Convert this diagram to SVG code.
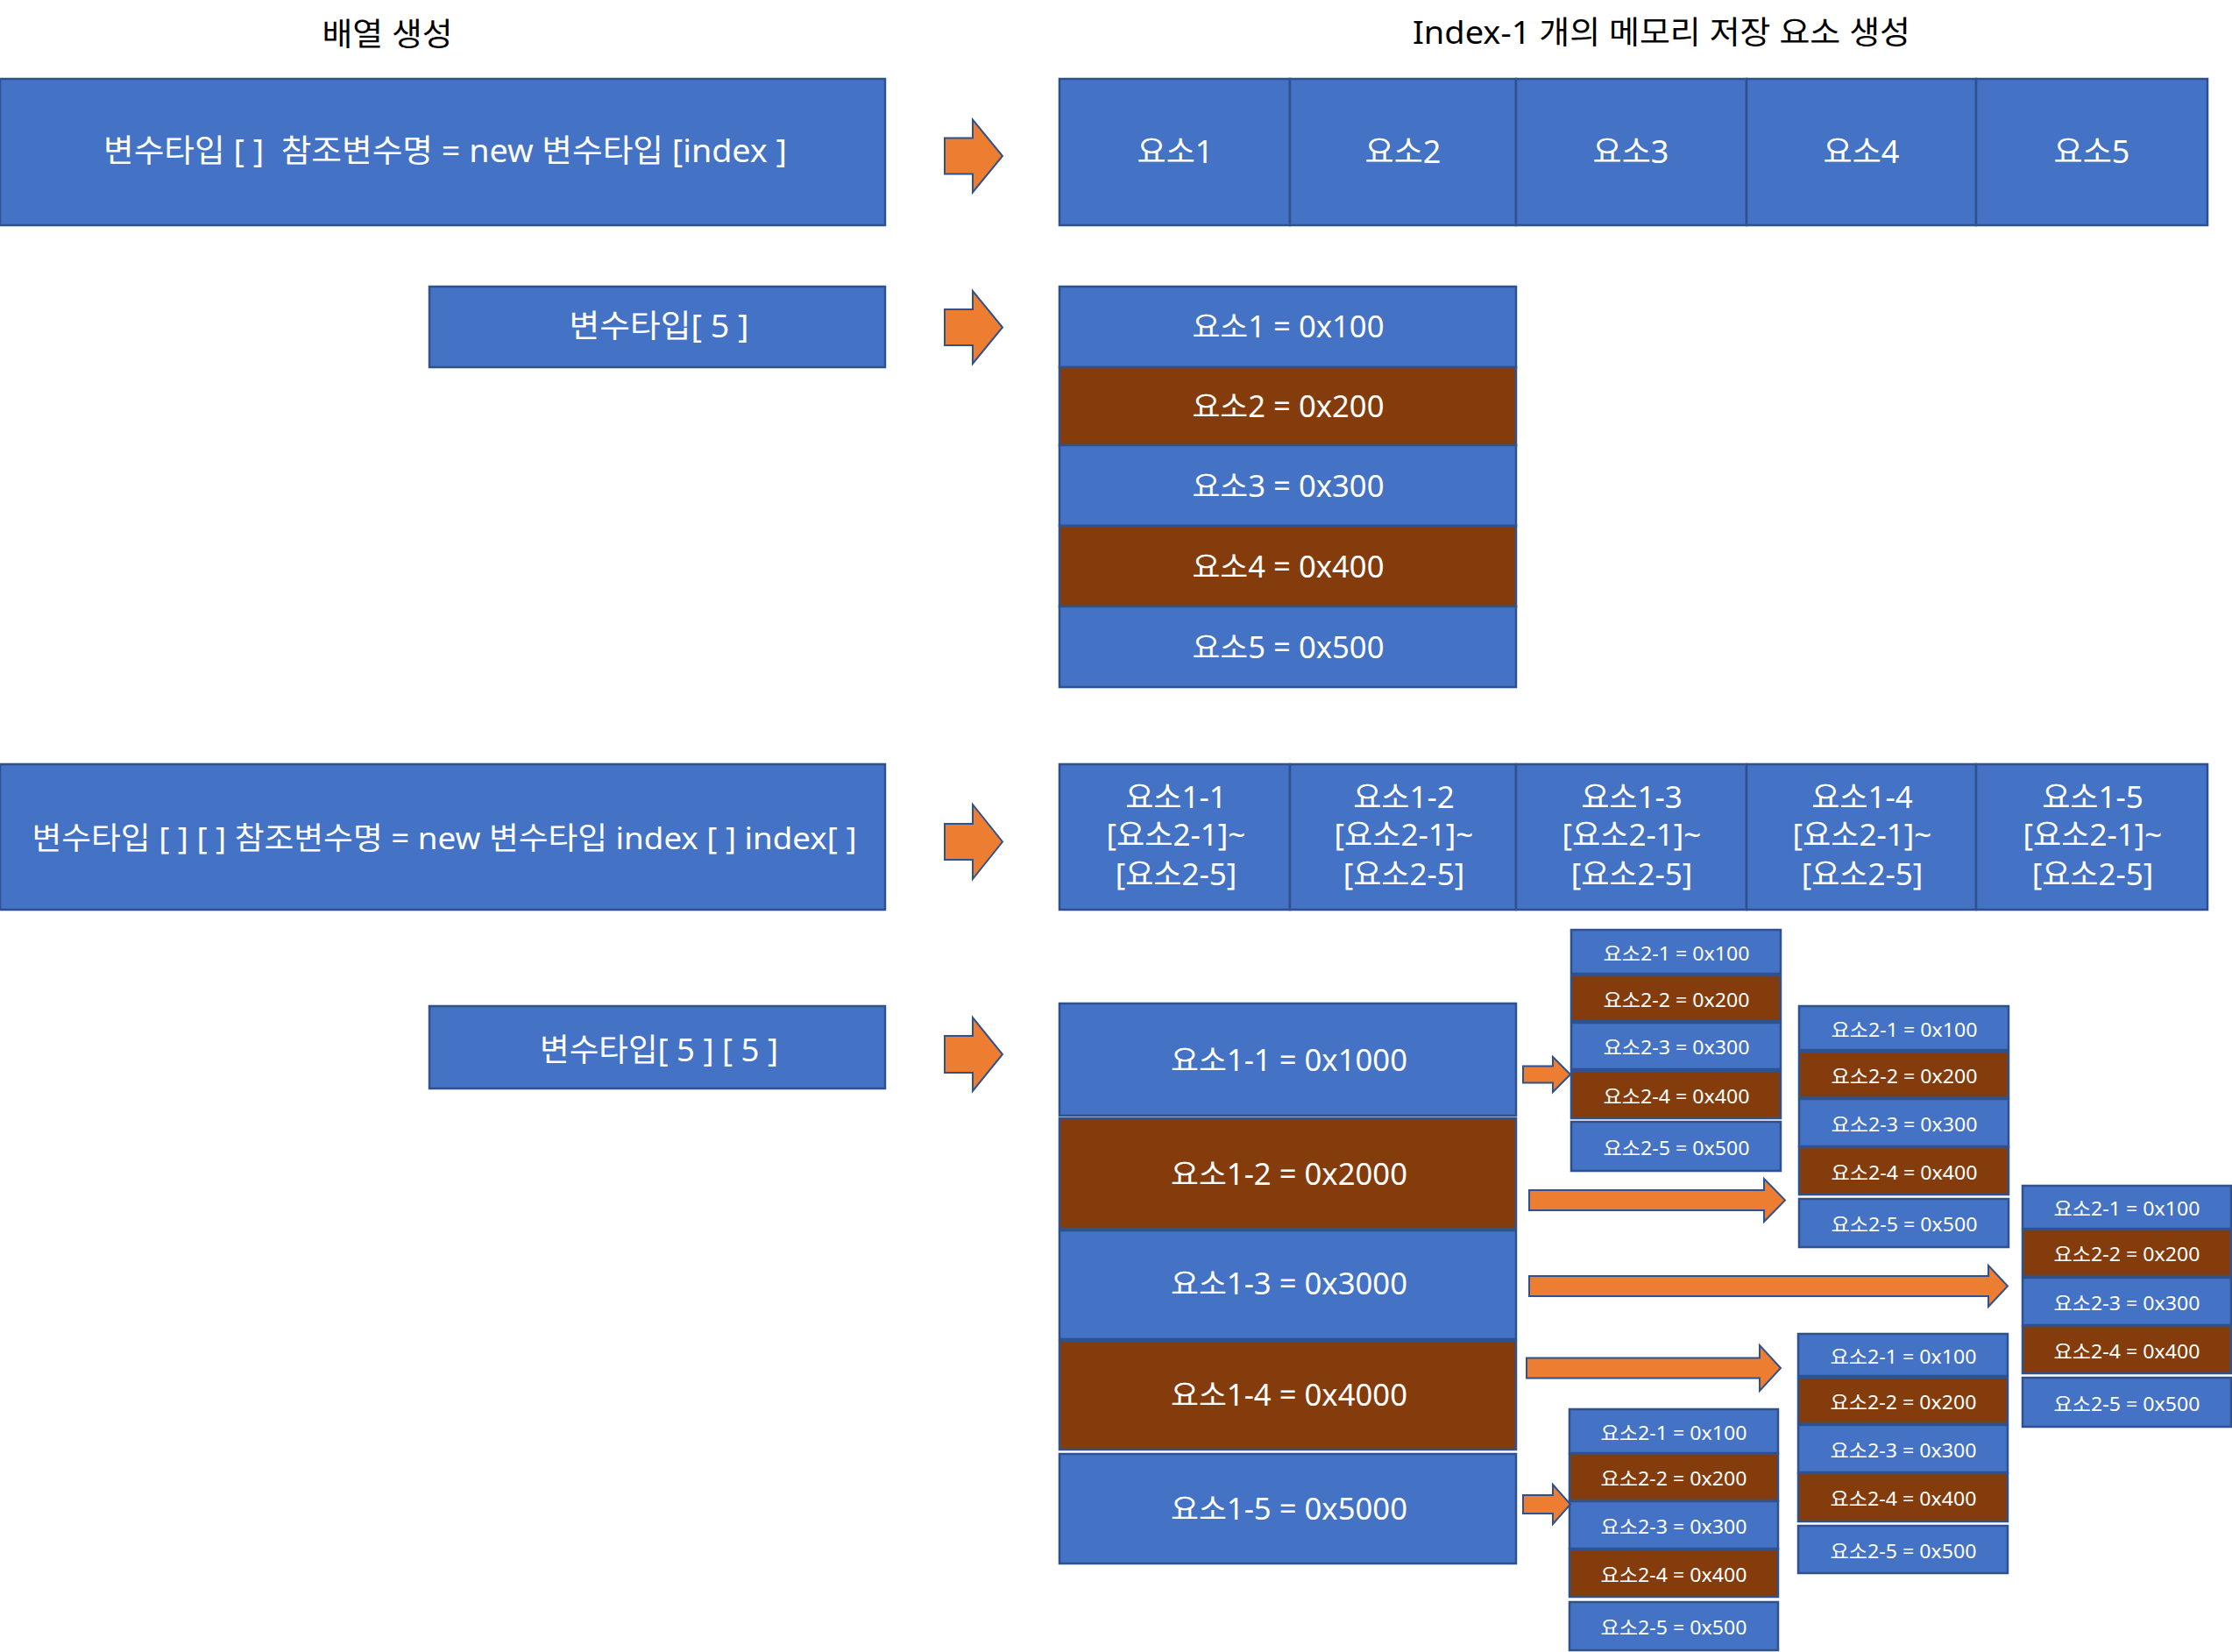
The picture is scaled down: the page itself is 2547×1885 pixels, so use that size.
<svg xmlns="http://www.w3.org/2000/svg" width="2547" height="1885" viewBox="0 0 2547 1885">
<style>
.b{fill:#4472C4;stroke:#2F528F;stroke-width:2.5}
.r{fill:#843C0C;stroke:#2F528F;stroke-width:2.5}
.t{fill:#FFFFFF;font-family:"Noto Sans","Noto Sans CJK KR",sans-serif;text-anchor:middle;white-space:pre}
.h{fill:#000000;font-family:"Noto Sans","Noto Sans CJK KR",sans-serif;text-anchor:middle;font-size:36px;white-space:pre}
.s{font-size:22px}
.m{font-size:34px}
.l{font-size:36px}
.a{fill:#ED7D31;stroke:#2F528F;stroke-width:2;stroke-linejoin:miter}
</style>
<rect width="2547" height="1885" fill="#FFFFFF"/>

<g id="titles">
<text class="h" x="442" y="52" textLength="149" lengthAdjust="spacingAndGlyphs">배열 생성</text>
<text class="h" x="1896" y="50" textLength="568" lengthAdjust="spacingAndGlyphs">Index-1 개의 메모리 저장 요소 생성</text>
</g>

<g id="decl1">
<rect class="b" x="0" y="90" width="1010" height="167"/>
<text class="t l" x="508" y="185" xml:space="preserve" textLength="780" lengthAdjust="spacingAndGlyphs">변수타입 [ ]  참조변수명 = new 변수타입 [index ]</text>
</g>

<g id="row1">
<g id="row1-c1"><rect class="b" x="1209" y="90" width="263" height="167"/><text class="t l" x="1341" y="186">요소1</text></g>
<g id="row1-c2"><rect class="b" x="1472" y="90" width="258" height="167"/><text class="t l" x="1601" y="186">요소2</text></g>
<g id="row1-c3"><rect class="b" x="1730" y="90" width="263" height="167"/><text class="t l" x="1861" y="186">요소3</text></g>
<g id="row1-c4"><rect class="b" x="1993" y="90" width="262" height="167"/><text class="t l" x="2124" y="186">요소4</text></g>
<g id="row1-c5"><rect class="b" x="2255" y="90" width="264" height="167"/><text class="t l" x="2387" y="186">요소5</text></g>
</g>

<g id="decl2">
<rect class="b" x="490" y="327" width="520" height="92"/>
<text class="t l" x="752" y="385" xml:space="preserve" textLength="205" lengthAdjust="spacingAndGlyphs">변수타입[ 5 ]</text>
</g>

<g id="col1">
<g id="col1-r1"><rect class="b" x="1209" y="327" width="521" height="92"/><text class="t m" x="1470" y="385" textLength="219" lengthAdjust="spacingAndGlyphs">요소1 = 0x100</text></g>
<g id="col1-r2"><rect class="r" x="1209" y="419" width="521" height="89"/><text class="t m" x="1470" y="476" textLength="219" lengthAdjust="spacingAndGlyphs">요소2 = 0x200</text></g>
<g id="col1-r3"><rect class="b" x="1209" y="508" width="521" height="92"/><text class="t m" x="1470" y="567" textLength="219" lengthAdjust="spacingAndGlyphs">요소3 = 0x300</text></g>
<g id="col1-r4"><rect class="r" x="1209" y="600" width="521" height="92"/><text class="t m" x="1470" y="659" textLength="219" lengthAdjust="spacingAndGlyphs">요소4 = 0x400</text></g>
<g id="col1-r5"><rect class="b" x="1209" y="692" width="521" height="92"/><text class="t m" x="1470" y="751" textLength="219" lengthAdjust="spacingAndGlyphs">요소5 = 0x500</text></g>
</g>

<g id="decl3">
<rect class="b" x="0" y="872" width="1010" height="166"/>
<text class="t" font-size="35" x="507" y="969" xml:space="preserve" textLength="941" lengthAdjust="spacingAndGlyphs">변수타입 [ ] [ ] 참조변수명 = new 변수타입 index [ ] index[ ]</text>
</g>

<g id="row2">
<g id="row2-c1"><rect class="b" x="1209" y="872" width="263" height="166"/>
<text class="t" font-size="35" x="1342" y="922">요소1-1</text><text class="t" font-size="35" x="1342" y="965">[요소2-1]~</text><text class="t" font-size="35" x="1342" y="1010">[요소2-5]</text></g>
<g id="row2-c2"><rect class="b" x="1472" y="872" width="258" height="166"/>
<text class="t" font-size="35" x="1602" y="922">요소1-2</text><text class="t" font-size="35" x="1602" y="965">[요소2-1]~</text><text class="t" font-size="35" x="1602" y="1010">[요소2-5]</text></g>
<g id="row2-c3"><rect class="b" x="1730" y="872" width="263" height="166"/>
<text class="t" font-size="35" x="1862" y="922">요소1-3</text><text class="t" font-size="35" x="1862" y="965">[요소2-1]~</text><text class="t" font-size="35" x="1862" y="1010">[요소2-5]</text></g>
<g id="row2-c4"><rect class="b" x="1993" y="872" width="262" height="166"/>
<text class="t" font-size="35" x="2125" y="922">요소1-4</text><text class="t" font-size="35" x="2125" y="965">[요소2-1]~</text><text class="t" font-size="35" x="2125" y="1010">[요소2-5]</text></g>
<g id="row2-c5"><rect class="b" x="2255" y="872" width="264" height="166"/>
<text class="t" font-size="35" x="2388" y="922">요소1-5</text><text class="t" font-size="35" x="2388" y="965">[요소2-1]~</text><text class="t" font-size="35" x="2388" y="1010">[요소2-5]</text></g>
</g>

<g id="decl4">
<rect class="b" x="490" y="1148" width="520" height="94"/>
<text class="t l" x="752" y="1211" xml:space="preserve" textLength="272" lengthAdjust="spacingAndGlyphs">변수타입[ 5 ] [ 5 ]</text>
</g>

<g id="col2">
<g id="col2-r1"><rect class="b" x="1209" y="1145" width="521" height="128"/><text class="t m" x="1471" y="1222" textLength="270" lengthAdjust="spacingAndGlyphs">요소1-1 = 0x1000</text></g>
<g id="col2-r2"><rect class="r" x="1209" y="1276" width="521" height="126"/><text class="t m" x="1471" y="1352" textLength="270" lengthAdjust="spacingAndGlyphs">요소1-2 = 0x2000</text></g>
<g id="col2-r3"><rect class="b" x="1209" y="1404" width="521" height="124"/><text class="t m" x="1471" y="1477" textLength="270" lengthAdjust="spacingAndGlyphs">요소1-3 = 0x3000</text></g>
<g id="col2-r4"><rect class="r" x="1209" y="1530" width="521" height="124"/><text class="t m" x="1471" y="1604" textLength="270" lengthAdjust="spacingAndGlyphs">요소1-4 = 0x4000</text></g>
<g id="col2-r5"><rect class="b" x="1209" y="1659" width="521" height="125"/><text class="t m" x="1471" y="1734" textLength="270" lengthAdjust="spacingAndGlyphs">요소1-5 = 0x5000</text></g>
</g>

<g id="stack1">
<g id="s1-r1"><rect class="b" x="1793" y="1061" width="239" height="50"/><text class="t s" x="1913" y="1096" textLength="167" lengthAdjust="spacingAndGlyphs">요소2-1 = 0x100</text></g>
<g id="s1-r2"><rect class="r" x="1793" y="1113" width="239" height="52"/><text class="t s" x="1913" y="1149" textLength="167" lengthAdjust="spacingAndGlyphs">요소2-2 = 0x200</text></g>
<g id="s1-r3"><rect class="b" x="1793" y="1167" width="239" height="53"/><text class="t s" x="1913" y="1203" textLength="167" lengthAdjust="spacingAndGlyphs">요소2-3 = 0x300</text></g>
<g id="s1-r4"><rect class="r" x="1793" y="1222" width="239" height="54"/><text class="t s" x="1913" y="1259" textLength="167" lengthAdjust="spacingAndGlyphs">요소2-4 = 0x400</text></g>
<g id="s1-r5"><rect class="b" x="1793" y="1280" width="239" height="56"/><text class="t s" x="1913" y="1318" textLength="167" lengthAdjust="spacingAndGlyphs">요소2-5 = 0x500</text></g>
</g>

<g id="stack2">
<g id="s2-r1"><rect class="b" x="2053" y="1148" width="239" height="50"/><text class="t s" x="2173" y="1183" textLength="167" lengthAdjust="spacingAndGlyphs">요소2-1 = 0x100</text></g>
<g id="s2-r2"><rect class="r" x="2053" y="1200" width="239" height="52"/><text class="t s" x="2173" y="1236" textLength="167" lengthAdjust="spacingAndGlyphs">요소2-2 = 0x200</text></g>
<g id="s2-r3"><rect class="b" x="2053" y="1254" width="239" height="54"/><text class="t s" x="2173" y="1291" textLength="167" lengthAdjust="spacingAndGlyphs">요소2-3 = 0x300</text></g>
<g id="s2-r4"><rect class="r" x="2053" y="1309" width="239" height="54"/><text class="t s" x="2173" y="1346" textLength="167" lengthAdjust="spacingAndGlyphs">요소2-4 = 0x400</text></g>
<g id="s2-r5"><rect class="b" x="2053" y="1368" width="239" height="55"/><text class="t s" x="2173" y="1405" textLength="167" lengthAdjust="spacingAndGlyphs">요소2-5 = 0x500</text></g>
</g>

<g id="stack3">
<g id="s3-r1"><rect class="b" x="2308" y="1353" width="238" height="49"/><text class="t s" x="2427" y="1387" textLength="167" lengthAdjust="spacingAndGlyphs">요소2-1 = 0x100</text></g>
<g id="s3-r2"><rect class="r" x="2308" y="1403" width="238" height="53"/><text class="t s" x="2427" y="1439" textLength="167" lengthAdjust="spacingAndGlyphs">요소2-2 = 0x200</text></g>
<g id="s3-r3"><rect class="b" x="2308" y="1458" width="238" height="54"/><text class="t s" x="2427" y="1495" textLength="167" lengthAdjust="spacingAndGlyphs">요소2-3 = 0x300</text></g>
<g id="s3-r4"><rect class="r" x="2308" y="1513" width="238" height="54"/><text class="t s" x="2427" y="1550" textLength="167" lengthAdjust="spacingAndGlyphs">요소2-4 = 0x400</text></g>
<g id="s3-r5"><rect class="b" x="2308" y="1572" width="238" height="56"/><text class="t s" x="2427" y="1610" textLength="167" lengthAdjust="spacingAndGlyphs">요소2-5 = 0x500</text></g>
</g>

<g id="stack4">
<g id="s4-r1"><rect class="b" x="2052" y="1522" width="239" height="48"/><text class="t s" x="2172" y="1556" textLength="167" lengthAdjust="spacingAndGlyphs">요소2-1 = 0x100</text></g>
<g id="s4-r2"><rect class="r" x="2052" y="1572" width="239" height="52"/><text class="t s" x="2172" y="1608" textLength="167" lengthAdjust="spacingAndGlyphs">요소2-2 = 0x200</text></g>
<g id="s4-r3"><rect class="b" x="2052" y="1626" width="239" height="54"/><text class="t s" x="2172" y="1663" textLength="167" lengthAdjust="spacingAndGlyphs">요소2-3 = 0x300</text></g>
<g id="s4-r4"><rect class="r" x="2052" y="1681" width="239" height="55"/><text class="t s" x="2172" y="1718" textLength="167" lengthAdjust="spacingAndGlyphs">요소2-4 = 0x400</text></g>
<g id="s4-r5"><rect class="b" x="2052" y="1741" width="239" height="54"/><text class="t s" x="2172" y="1778" textLength="167" lengthAdjust="spacingAndGlyphs">요소2-5 = 0x500</text></g>
</g>

<g id="stack5">
<g id="s5-r1"><rect class="b" x="1791" y="1608" width="238" height="50"/><text class="t s" x="1910" y="1643" textLength="167" lengthAdjust="spacingAndGlyphs">요소2-1 = 0x100</text></g>
<g id="s5-r2"><rect class="r" x="1791" y="1659" width="238" height="53"/><text class="t s" x="1910" y="1695" textLength="167" lengthAdjust="spacingAndGlyphs">요소2-2 = 0x200</text></g>
<g id="s5-r3"><rect class="b" x="1791" y="1713" width="238" height="54"/><text class="t s" x="1910" y="1750" textLength="167" lengthAdjust="spacingAndGlyphs">요소2-3 = 0x300</text></g>
<g id="s5-r4"><rect class="r" x="1791" y="1768" width="238" height="54"/><text class="t s" x="1910" y="1805" textLength="167" lengthAdjust="spacingAndGlyphs">요소2-4 = 0x400</text></g>
<g id="s5-r5"><rect class="b" x="1791" y="1828" width="238" height="55"/><text class="t s" x="1910" y="1865" textLength="167" lengthAdjust="spacingAndGlyphs">요소2-5 = 0x500</text></g>
</g>

<g id="connectors">
<polygon class="a" points="1078,157.5 1110,157.5 1110,136.5 1144,178 1110,219.5 1110,198.5 1078,198.5"/>
<polygon class="a" points="1078,353 1110,353 1110,332 1144,373.5 1110,415 1110,394 1078,394"/>
<polygon class="a" points="1078,940 1110,940 1110,918 1144,960.5 1110,1003 1110,981 1078,981"/>
<polygon class="a" points="1078,1182 1110,1182 1110,1161 1144,1203 1110,1245 1110,1224 1078,1224"/>
<polygon class="a" points="1738,1216.5 1772,1216.5 1772,1206 1792,1226 1772,1246 1772,1235.5 1738,1235.5"/>
<polygon class="a" points="1745,1358 2013,1358 2013,1345 2037,1369.5 2013,1394 2013,1381 1745,1381"/>
<polygon class="a" points="1745,1456 2269,1456 2269,1444 2291,1467.5 2269,1491 2269,1479 1745,1479"/>
<polygon class="a" points="1742,1549.5 2008,1549.5 2008,1535 2032,1561 2008,1587 2008,1572.5 1742,1572.5"/>
<polygon class="a" points="1738,1706 1772,1706 1772,1694 1792,1716.5 1772,1739 1772,1727 1738,1727"/>
</g>
</svg>
